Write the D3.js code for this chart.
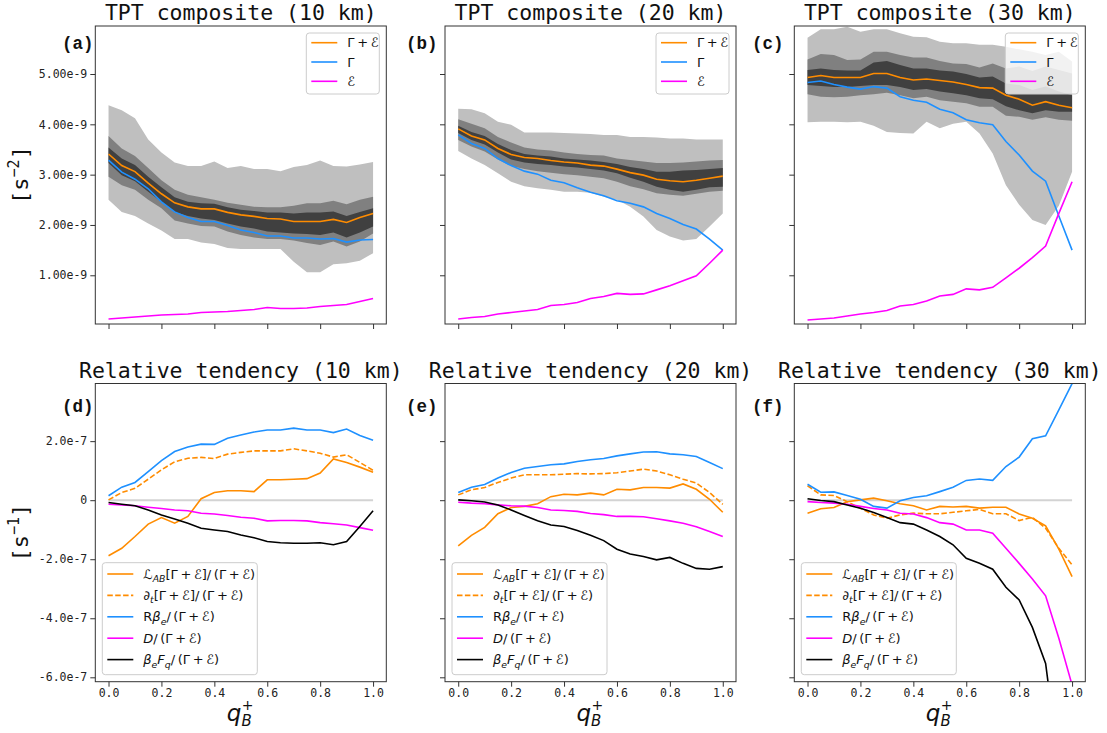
<!DOCTYPE html>
<html>
<head>
<meta charset="utf-8">
<script src="https://cdn.jsdelivr.net/npm/d3@7"></script>
<style>
  body { margin: 0; background: #fff; }
  svg text { font-family: "DejaVu Sans Mono", monospace; }
</style>
</head>
<body>
<svg id="fig" width="1107" height="733"></svg>
<script>
// q_B^+ grid shared by all panels
var qB = [0.00, 0.05, 0.10, 0.15, 0.20, 0.25, 0.30, 0.35, 0.40, 0.45, 0.50,
          0.55, 0.60, 0.65, 0.70, 0.75, 0.80, 0.85, 0.90, 0.95, 1.00];
var xTicks = [0, 0.2, 0.4, 0.6, 0.8, 1.0];
var heights = ["10 km", "20 km", "30 km"];

// --- TPT composite, units of 1e-9 s^-2 ---
var topTicks = [1, 2, 3, 4, 5];
var gammaEps10 = [3.41, 3.18, 3.06, 2.83, 2.62, 2.44, 2.36, 2.32, 2.32, 2.25, 2.20, 2.17, 2.13, 2.12, 2.07, 2.07, 2.07, 2.11, 2.05, 2.15, 2.23];
var gamma10    = [3.29, 3.05, 2.91, 2.72, 2.46, 2.26, 2.15, 2.07, 2.07, 1.99, 1.90, 1.85, 1.78, 1.78, 1.74, 1.74, 1.72, 1.73, 1.66, 1.70, 1.71];
var eps10      = [0.13, 0.15, 0.17, 0.19, 0.21, 0.22, 0.23, 0.26, 0.27, 0.28, 0.30, 0.32, 0.36, 0.34, 0.34, 0.35, 0.38, 0.40, 0.42, 0.48, 0.54];
var outerHi10  = [4.38, 4.28, 4.12, 3.70, 3.44, 3.24, 3.17, 3.17, 3.26, 3.13, 3.17, 3.11, 3.11, 3.07, 3.15, 3.19, 3.28, 3.17, 3.16, 3.20, 3.25];
var outerLo10  = [2.50, 2.26, 2.18, 2.03, 1.89, 1.72, 1.72, 1.65, 1.62, 1.54, 1.52, 1.52, 1.52, 1.52, 1.27, 1.06, 1.06, 1.22, 1.24, 1.29, 1.44];
var midHi10    = [3.77, 3.52, 3.37, 3.13, 2.89, 2.70, 2.60, 2.55, 2.50, 2.44, 2.40, 2.36, 2.35, 2.35, 2.38, 2.43, 2.43, 2.48, 2.41, 2.50, 2.56];
var midLo10    = [2.96, 2.79, 2.70, 2.50, 2.33, 2.09, 2.03, 1.98, 1.97, 1.87, 1.80, 1.75, 1.72, 1.72, 1.69, 1.64, 1.60, 1.67, 1.57, 1.67, 1.83];
var innerHi10  = [3.54, 3.32, 3.19, 2.96, 2.75, 2.55, 2.46, 2.43, 2.42, 2.35, 2.30, 2.28, 2.25, 2.25, 2.23, 2.25, 2.25, 2.27, 2.18, 2.26, 2.33];
var innerLo10  = [3.23, 2.99, 2.87, 2.66, 2.46, 2.26, 2.18, 2.13, 2.10, 2.03, 1.97, 1.93, 1.87, 1.85, 1.83, 1.82, 1.80, 1.85, 1.75, 1.85, 1.97];

var gammaEps20 = [3.91, 3.77, 3.69, 3.52, 3.40, 3.34, 3.32, 3.28, 3.25, 3.23, 3.19, 3.17, 3.11, 3.04, 2.99, 2.91, 2.88, 2.86, 2.89, 2.93, 2.97];
var gamma20    = [3.79, 3.62, 3.52, 3.32, 3.18, 3.07, 3.01, 2.89, 2.84, 2.74, 2.65, 2.58, 2.48, 2.43, 2.36, 2.23, 2.13, 2.01, 1.92, 1.72, 1.50];
var eps20      = [0.13, 0.16, 0.18, 0.23, 0.26, 0.29, 0.32, 0.40, 0.42, 0.46, 0.54, 0.58, 0.64, 0.62, 0.63, 0.71, 0.79, 0.89, 0.99, 1.24, 1.50];
var outerHi20  = [4.31, 4.30, 4.22, 4.05, 3.99, 3.84, 3.84, 3.84, 3.83, 3.82, 3.81, 3.79, 3.79, 3.75, 3.75, 3.74, 3.72, 3.72, 3.70, 3.70, 3.70];
var outerLo20  = [3.47, 3.32, 3.19, 3.03, 2.86, 2.77, 2.73, 2.70, 2.66, 2.66, 2.64, 2.56, 2.50, 2.36, 2.17, 1.90, 1.77, 1.69, 1.72, 1.97, 2.23];
var midHi20    = [4.10, 4.01, 3.92, 3.75, 3.64, 3.54, 3.50, 3.48, 3.44, 3.41, 3.39, 3.38, 3.32, 3.29, 3.26, 3.23, 3.23, 3.24, 3.26, 3.28, 3.29];
var midLo20    = [3.69, 3.56, 3.46, 3.30, 3.17, 3.11, 3.07, 3.04, 3.01, 2.99, 2.96, 2.93, 2.86, 2.77, 2.71, 2.63, 2.60, 2.58, 2.62, 2.66, 2.68];
var innerHi20  = [3.97, 3.85, 3.77, 3.61, 3.49, 3.41, 3.38, 3.36, 3.32, 3.30, 3.28, 3.25, 3.21, 3.15, 3.11, 3.06, 3.06, 3.08, 3.09, 3.11, 3.13];
var innerLo20  = [3.83, 3.69, 3.60, 3.44, 3.30, 3.24, 3.21, 3.19, 3.16, 3.14, 3.11, 3.08, 3.03, 2.94, 2.86, 2.76, 2.70, 2.66, 2.70, 2.75, 2.76];

var gammaEps30 = [4.93, 4.97, 4.93, 4.93, 4.93, 5.01, 5.01, 4.93, 4.88, 4.90, 4.87, 4.84, 4.79, 4.73, 4.72, 4.58, 4.50, 4.38, 4.45, 4.38, 4.33];
var gamma30    = [4.83, 4.86, 4.79, 4.74, 4.70, 4.75, 4.72, 4.55, 4.48, 4.44, 4.30, 4.23, 4.09, 4.03, 3.99, 3.66, 3.39, 3.07, 2.87, 2.18, 1.50];
var eps30      = [0.11, 0.13, 0.15, 0.19, 0.23, 0.26, 0.30, 0.39, 0.42, 0.49, 0.59, 0.62, 0.73, 0.71, 0.76, 0.95, 1.14, 1.35, 1.58, 2.23, 2.86];
var outerHi30  = [5.72, 5.89, 5.89, 5.94, 5.84, 5.89, 5.89, 5.81, 5.74, 5.73, 5.64, 5.61, 5.61, 5.58, 5.58, 5.54, 5.49, 5.44, 5.38, 5.44, 5.25];
var outerLo30  = [4.04, 4.05, 4.05, 4.04, 4.05, 3.97, 3.85, 3.83, 3.82, 4.05, 3.92, 4.01, 4.05, 3.82, 3.42, 2.79, 2.40, 2.10, 2.00, 2.38, 3.06];
var midHi30    = [5.29, 5.40, 5.38, 5.28, 5.29, 5.44, 5.44, 5.38, 5.33, 5.33, 5.26, 5.21, 5.20, 5.13, 5.21, 5.11, 5.15, 5.06, 5.15, 5.08, 5.01];
var midLo30    = [4.60, 4.55, 4.54, 4.55, 4.58, 4.60, 4.63, 4.58, 4.52, 4.55, 4.48, 4.45, 4.42, 4.35, 4.35, 4.17, 4.15, 4.09, 4.14, 4.09, 4.07];
var innerHi30  = [5.08, 5.11, 5.08, 5.07, 5.07, 5.23, 5.26, 5.18, 5.11, 5.11, 5.07, 5.05, 5.00, 4.93, 4.95, 4.81, 4.78, 4.68, 4.75, 4.65, 4.58];
var innerLo30  = [4.78, 4.76, 4.74, 4.74, 4.76, 4.78, 4.78, 4.74, 4.68, 4.70, 4.65, 4.62, 4.58, 4.52, 4.50, 4.36, 4.28, 4.22, 4.28, 4.25, 4.25];

// --- relative tendency, units of 1e-7 s^-1 ---
var botTicks = [-6, -4, -2, 0, 2];
var lab10 = [-1.88, -1.63, -1.23, -0.81, -0.59, -0.78, -0.55, 0.05, 0.26, 0.32, 0.32, 0.29, 0.69, 0.69, 0.71, 0.73, 0.92, 1.40, 1.28, 1.12, 0.95];
var dt10  = [0.01, 0.26, 0.40, 0.71, 1.03, 1.30, 1.42, 1.45, 1.41, 1.56, 1.62, 1.67, 1.67, 1.67, 1.74, 1.67, 1.59, 1.46, 1.54, 1.28, 1.01];
var rb10  = [0.15, 0.44, 0.60, 0.97, 1.34, 1.65, 1.80, 1.90, 1.89, 2.10, 2.21, 2.31, 2.38, 2.38, 2.44, 2.38, 2.38, 2.29, 2.41, 2.19, 2.03];
var dis10 = [-0.14, -0.16, -0.19, -0.24, -0.28, -0.33, -0.36, -0.44, -0.47, -0.52, -0.58, -0.61, -0.70, -0.69, -0.69, -0.70, -0.76, -0.80, -0.84, -0.93, -1.02];
var fq10  = [-0.08, -0.14, -0.19, -0.33, -0.50, -0.64, -0.78, -0.95, -1.01, -1.06, -1.18, -1.27, -1.40, -1.44, -1.46, -1.46, -1.44, -1.51, -1.40, -0.89, -0.36];

var lab20 = [-1.55, -1.19, -0.92, -0.46, -0.25, -0.21, -0.12, 0.12, 0.20, 0.18, 0.24, 0.18, 0.37, 0.35, 0.43, 0.43, 0.41, 0.55, 0.37, 0.03, -0.41];
var dt20  = [0.18, 0.35, 0.43, 0.60, 0.75, 0.86, 0.86, 0.86, 0.88, 0.90, 0.89, 0.90, 0.93, 0.99, 1.05, 0.99, 0.86, 0.71, 0.58, 0.26, -0.14];
var rb20  = [0.26, 0.44, 0.53, 0.75, 0.94, 1.08, 1.14, 1.20, 1.23, 1.31, 1.37, 1.41, 1.50, 1.57, 1.63, 1.64, 1.57, 1.54, 1.48, 1.28, 1.07];
var dis20 = [-0.07, -0.10, -0.12, -0.16, -0.19, -0.20, -0.25, -0.33, -0.35, -0.38, -0.45, -0.49, -0.55, -0.55, -0.56, -0.63, -0.70, -0.78, -0.90, -1.06, -1.23];
var fq20  = [0.01, -0.02, -0.06, -0.16, -0.33, -0.52, -0.70, -0.84, -0.89, -1.03, -1.19, -1.37, -1.66, -1.82, -1.91, -2.02, -1.94, -2.14, -2.31, -2.34, -2.25];

var lab30 = [-0.44, -0.29, -0.25, -0.05, 0.01, 0.07, -0.02, -0.12, -0.19, -0.33, -0.21, -0.23, -0.21, -0.27, -0.24, -0.24, -0.47, -0.61, -0.87, -1.66, -2.59];
var dt30  = [0.49, 0.18, 0.16, -0.05, -0.27, -0.50, -0.61, -0.50, -0.44, -0.46, -0.46, -0.41, -0.36, -0.31, -0.46, -0.46, -0.69, -0.58, -0.95, -1.63, -2.19];
var rb30  = [0.54, 0.27, 0.28, 0.16, 0.03, -0.21, -0.27, -0.02, 0.09, 0.15, 0.29, 0.44, 0.67, 0.72, 0.67, 1.14, 1.46, 2.08, 2.18, 3.06, 3.95];
var dis30 = [-0.05, -0.08, -0.10, -0.14, -0.21, -0.28, -0.33, -0.44, -0.47, -0.59, -0.76, -0.81, -1.01, -1.01, -1.12, -1.63, -2.14, -2.67, -3.24, -4.68, -6.26];
var fq30  = [0.05, -0.01, -0.05, -0.16, -0.27, -0.42, -0.59, -0.76, -0.81, -1.01, -1.23, -1.51, -1.97, -2.14, -2.34, -2.95, -3.38, -4.31, -5.53, -9.00, -12.0];

// legend label pieces (mathtext imitation, thin spaces around binary +)
var GE = "\u0393\u2009+\u2009\u2130";
var frac = {t: "/\u2009(" + GE + ")"};
var topLabels = [
    [{t: GE}],
    [{t: "\u0393"}],
    [{t: "\u2130"}]
];
var botLabels = [
    [{t: "\u2112"}, {t: "AB", sub: true, it: true}, {t: "[" + GE + "]"}, frac],
    [{t: "\u2202"}, {t: "t", sub: true, it: true}, {t: "[" + GE + "]"}, frac],
    [{t: "R"}, {t: "\u03b2", it: true}, {t: "e", sub: true, it: true}, frac],
    [{t: "D", it: true}, frac],
    [{t: "\u03b2", it: true}, {t: "e", sub: true, it: true}, {t: "F", it: true}, {t: "q", sub: true, it: true}, frac]
];

var ORANGE = "#ff8c00", BLUE = "#1e90ff", MAGENTA = "#ff00ff";

var topPanels = [
    {label: "(a)", le: gammaEps10, g: gamma10, e: eps10,
     bands: [[outerLo10, outerHi10], [midLo10, midHi10], [innerLo10, innerHi10]]},
    {label: "(b)", le: gammaEps20, g: gamma20, e: eps20,
     bands: [[outerLo20, outerHi20], [midLo20, midHi20], [innerLo20, innerHi20]]},
    {label: "(c)", le: gammaEps30, g: gamma30, e: eps30,
     bands: [[outerLo30, outerHi30], [midLo30, midHi30], [innerLo30, innerHi30]]}
];
var botPanels = [
    {label: "(d)", series: [lab10, dt10, rb10, dis10, fq10]},
    {label: "(e)", series: [lab20, dt20, rb20, dis20, fq20]},
    {label: "(f)", series: [lab30, dt30, rb30, dis30, fq30]}
];

// layout
var lefts = [95.3, 445, 794.3];
var labelX = [62, 406, 752];
var PW = 291;
var TOP_Y = 26, TOP_H = 298;
var BOT_Y = 383.5, BOT_H = 298.2;

var svg = d3.select("#fig");
var x = d3.scaleLinear().domain([-0.05, 1.05]).range([0, PW]);
var yTop = d3.scaleLinear().domain([0.032, 5.954]).range([TOP_H, 0]);
var yBot = d3.scaleLinear().domain([-6.149, 3.953]).range([BOT_H, 0]);

var botStyles = [
    {color: ORANGE, dash: null},
    {color: ORANGE, dash: "5.5,2.4"},
    {color: BLUE, dash: null},
    {color: MAGENTA, dash: null},
    {color: "#000", dash: null}
];

function rich(textSel, pieces, size) {
    var shift = 0;
    pieces.forEach(function(p) {
        var want = p.sub ? 3.5 : 0;
        textSel.append("tspan")
            .attr("dy", want - shift)
            .style("font-size", (p.sub ? size * 0.72 : size) + "px")
            .style("font-style", p.it ? "italic" : "normal")
            .text(p.t);
        shift = want;
    });
}

function frame(g, y, h, ticks, fmt, showY, showX) {
    var ya = g.append("g")
        .call(d3.axisLeft(y).tickValues(ticks).tickSize(5).tickPadding(3)
            .tickFormat(showY ? fmt : function() { return ""; }));
    var xa = g.append("g")
        .attr("transform", "translate(0," + h + ")")
        .call(d3.axisBottom(x).tickValues(xTicks).tickSize(5).tickPadding(2)
            .tickFormat(showX ? function(d) { return d.toFixed(1); } : function() { return ""; }));
    [ya, xa].forEach(function(a) {
        a.select(".domain").remove();
        a.selectAll("line").attr("stroke", "#333");
        a.selectAll("text")
            .attr("fill", "#222")
            .style("font-family", "'DejaVu Sans Mono', monospace")
            .style("font-size", "11.5px");
    });
    g.append("rect")
        .attr("width", PW).attr("height", h)
        .attr("fill", "none").attr("stroke", "#333").attr("stroke-width", 1);
}

function clip(g, id, h) {
    svg.append("clipPath").attr("id", id)
        .append("rect").attr("width", PW).attr("height", h);
    return g.append("g").attr("clip-path", "url(#" + id + ")");
}

function yLabel(cy, power) {
    var t = svg.append("text")
        .attr("transform", "translate(28," + cy + ") rotate(-90)")
        .attr("text-anchor", "middle")
        .attr("fill", "#111");
    t.append("tspan").style("font-size", "22px").text("[s");
    t.append("tspan").attr("dy", -9).style("font-size", "15px").text(power);
    t.append("tspan").attr("dy", 9).style("font-size", "22px").text("]");
}

function panelLabel(px, py, txt) {
    svg.append("text")
        .attr("x", px).attr("y", py)
        .style("font-family", "'Courier New', 'Liberation Mono', monospace")
        .style("font-weight", "bold").style("font-size", "17.5px").attr("fill", "#111")
        .text(txt);
}

// ---------- top row ----------
topPanels.forEach(function(p, i) {
    var g = svg.append("g").attr("transform", "translate(" + lefts[i] + "," + TOP_Y + ")");
    var c = clip(g, "clipTop" + i, TOP_H);
    var bandColors = ["#bfbfbf", "#808080", "#404040"];
    p.bands.forEach(function(b, k) {
        var area = d3.area()
            .x(function(d, j) { return x(qB[j]); })
            .y0(function(d, j) { return yTop(b[0][j]); })
            .y1(function(d, j) { return yTop(b[1][j]); });
        c.append("path").datum(qB).attr("d", area).attr("fill", bandColors[k]);
    });
    [[p.le, ORANGE], [p.g, BLUE], [p.e, MAGENTA]].forEach(function(s) {
        var line = d3.line()
            .x(function(d, j) { return x(qB[j]); })
            .y(function(d) { return yTop(d); });
        c.append("path").datum(s[0]).attr("d", line)
            .attr("fill", "none").attr("stroke", s[1]).attr("stroke-width", 1.6);
    });
    frame(g, yTop, TOP_H, topTicks, function(d) { return d.toFixed(2) + "e-9"; }, i === 0, false);

    // legend
    var lg = g.append("g").attr("transform", "translate(" + (PW - 7 - 73) + ",7)");
    lg.append("rect").attr("width", 73).attr("height", 61).attr("rx", 3)
        .attr("fill", "#fff").attr("fill-opacity", 0.8).attr("stroke", "#cccccc");
    [ORANGE, BLUE, MAGENTA].forEach(function(col, k) {
        var yy = 9.7 + k * 19.3;
        lg.append("line").attr("x1", 5).attr("x2", 31).attr("y1", yy).attr("y2", yy)
            .attr("stroke", col).attr("stroke-width", 1.6);
        var t = lg.append("text").attr("x", 41).attr("y", yy + 4.6)
            .style("font-family", "'DejaVu Sans', sans-serif").attr("fill", "#111");
        rich(t, topLabels[k], 13);
    });

    svg.append("text")
        .attr("x", lefts[i] + PW / 2).attr("y", 20)
        .attr("text-anchor", "middle").style("font-size", "21.5px").attr("fill", "#111")
        .text("TPT composite (" + heights[i] + ")");
    panelLabel(labelX[i], 48.5, p.label);
});

// ---------- bottom row ----------
botPanels.forEach(function(p, i) {
    var g = svg.append("g").attr("transform", "translate(" + lefts[i] + "," + BOT_Y + ")");
    var c = clip(g, "clipBot" + i, BOT_H);
    c.append("line")
        .attr("x1", x(0)).attr("x2", x(1)).attr("y1", yBot(0)).attr("y2", yBot(0))
        .attr("stroke", "#d3d3d3").attr("stroke-width", 2);
    p.series.forEach(function(s, k) {
        var line = d3.line()
            .x(function(d, j) { return x(qB[j]); })
            .y(function(d) { return yBot(d); });
        c.append("path").datum(s).attr("d", line)
            .attr("fill", "none").attr("stroke", botStyles[k].color).attr("stroke-width", 1.6)
            .attr("stroke-dasharray", botStyles[k].dash);
    });
    frame(g, yBot, BOT_H, botTicks, function(d) { return d === 0 ? "0" : d.toFixed(1) + "e-7"; }, i === 0, true);

    // legend
    var lg = g.append("g").attr("transform", "translate(7," + (BOT_H - 7 - 112) + ")");
    lg.append("rect").attr("width", 155).attr("height", 112).attr("rx", 3)
        .attr("fill", "#fff").attr("fill-opacity", 0.8).attr("stroke", "#cccccc");
    botStyles.forEach(function(st, k) {
        var yy = 11.3 + k * 21.4;
        lg.append("line").attr("x1", 5).attr("x2", 31).attr("y1", yy).attr("y2", yy)
            .attr("stroke", st.color).attr("stroke-width", 1.6)
            .attr("stroke-dasharray", st.dash);
        var t = lg.append("text").attr("x", 41).attr("y", yy + 4.6)
            .style("font-family", "'DejaVu Sans', sans-serif").attr("fill", "#111");
        rich(t, botLabels[k], 13);
    });

    svg.append("text")
        .attr("x", lefts[i] + PW / 2).attr("y", 378)
        .attr("text-anchor", "middle").style("font-size", "21.5px").attr("fill", "#111")
        .text("Relative tendency (" + heights[i] + ")");
    panelLabel(labelX[i], 411.5, p.label);

    // x label q_B^+ (sub and sup stacked)
    var xl = svg.append("text")
        .attr("x", lefts[i] + PW / 2 - 14).attr("y", 721)
        .style("font-family", "'DejaVu Sans', sans-serif").attr("fill", "#111");
    xl.append("tspan").style("font-size", "23px").style("font-style", "italic").text("q");
    xl.append("tspan").attr("dy", 5).style("font-size", "15px").style("font-style", "italic").text("B");
    xl.append("tspan").attr("dx", -10).attr("dy", -16).style("font-size", "14px").text("+");
});

yLabel(TOP_Y + TOP_H / 2, "\u22122");
yLabel(BOT_Y + BOT_H / 2, "\u22121");
</script>
</body>
</html>
